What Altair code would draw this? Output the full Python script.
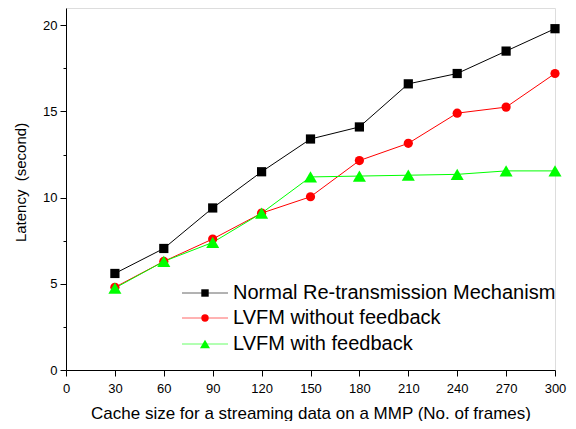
import altair as alt
import pandas as pd

series = ["Normal Re-transmission Mechanism", "LVFM without feedback", "LVFM with feedback"]
cache = [30, 60, 90, 120, 150, 180, 210, 240, 270, 300]
normal = [5.6, 7.05, 9.4, 11.5, 13.4, 14.1, 16.6, 17.2, 18.5, 19.8]
no_fb = [4.8, 6.3, 7.6, 9.1, 10.05, 12.15, 13.15, 14.9, 15.25, 17.2]
with_fb = [4.75, 6.3, 7.4, 9.1, 11.2, 11.25, 11.3, 11.35, 11.55, 11.55]
colors = ["#000000", "#ff0000", "#00ff00"]
shapes = ["square", "circle", "triangle-up"]

rows = []
for name, vals in zip(series, [normal, no_fb, with_fb]):
    for c, v in zip(cache, vals):
        rows.append({"series": name, "cache": c, "latency": v})
df = pd.DataFrame(rows)

FONT = "Liberation Sans"
W, H = 489, 362

xenc = alt.X(
    "cache:Q",
    scale=alt.Scale(domain=[0, 300], nice=False),
    axis=alt.Axis(
        title="Cache size for a streaming data on a MMP (No. of frames)",
        values=list(range(0, 301, 15)),
        labelExpr="datum.value % 30 === 0 ? datum.label : ''",
        tickSize={"condition": {"test": "datum.value % 30 === 0", "value": 6}, "value": 3},
        grid=False, domainColor="black", tickColor="black", labelColor="black",
        titleColor="black", labelFontSize=13, titleFontSize=17, labelFont=FONT,
        titleFont=FONT, titleFontWeight="normal", labelPadding=6, titlePadding=10,
        labelFlush=False,
    ),
)
yenc = alt.Y(
    "latency:Q",
    scale=alt.Scale(domain=[0, 21], nice=False),
    axis=alt.Axis(
        title="Latency\u00a0 (second)",
        values=[i * 2.5 for i in range(9)],
        labelExpr="datum.value % 5 === 0 ? datum.label : ''",
        tickSize={"condition": {"test": "datum.value % 5 === 0", "value": 6}, "value": 3},
        grid=False, domainColor="black", tickColor="black", labelColor="black",
        titleColor="black", labelFontSize=13, titleFontSize=15, labelFont=FONT,
        titleFont=FONT, titleFontWeight="normal", labelPadding=3, titlePadding=14,
        titleY=174,
        labelFlush=False,
    ),
)
cscale = alt.Scale(domain=series, range=colors)
sscale = alt.Scale(domain=series, range=shapes)

lines = alt.Chart(df).mark_line(strokeWidth=1).encode(
    x=xenc, y=yenc,
    color=alt.Color("series:N", scale=cscale, legend=None),
    detail="series:N",
)
pt_sizes = [85, 85, 170]
layers = [lines]
for name, col, shp, sz in zip(series, colors, shapes, pt_sizes):
    layers.append(alt.Chart(df).transform_filter(alt.datum.series == name).mark_point(
        filled=True, opacity=1, color=col, shape=shp, size=sz).encode(
        x="cache:Q", y="latency:Q"))

ly = [285, 310, 336]
lsizes = [55, 55, 100]
for name, col, shp, yy, sz in zip(series, colors, shapes, ly, lsizes):
    d = alt.Data(values=[{"label": name}])
    layers.append(alt.Chart(d).mark_rule(color=col, strokeWidth=1, opacity=0.6).encode(
        x=alt.value(116), x2=alt.value(162), y=alt.value(yy)))
    layers.append(alt.Chart(d).mark_point(filled=True, opacity=1, color=col, shape=shp, size=sz).encode(
        x=alt.value(139), y=alt.value(yy)))
    layers.append(alt.Chart(d).mark_text(align="left", baseline="middle", font=FONT, fontSize=20,
                                         color="black").encode(
        x=alt.value(167), y=alt.value(yy), text="label:N"))

chart = alt.layer(*layers).properties(
    width=W, height=H,
    autosize=alt.AutoSizeParams(type="none"),
    padding={"left": 58, "top": 0, "right": 13, "bottom": 51},
).configure_view(stroke=None).configure(background="white")

chart.save("out.html", embed_options={"renderer": "svg", "actions": False})
